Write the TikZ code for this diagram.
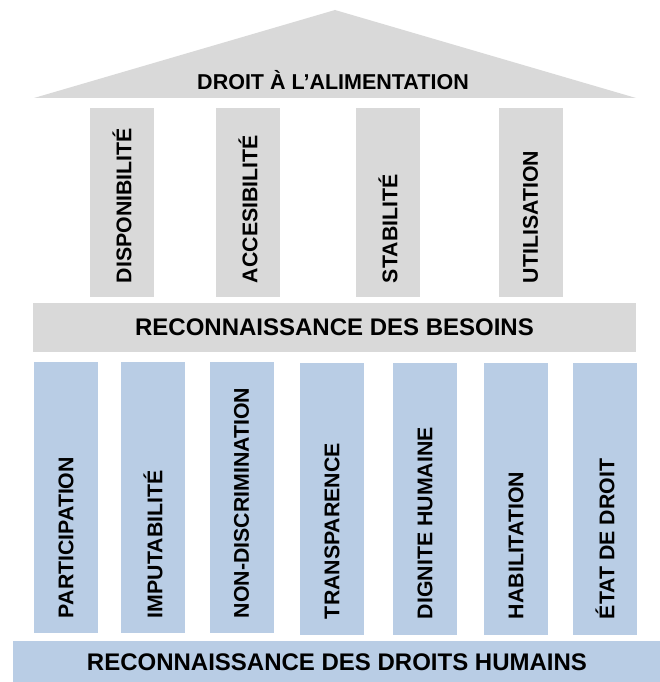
\documentclass[tikz,border=0pt]{standalone}
\usepackage{fontspec}
\setmainfont{Liberation Sans}
\definecolor{roofgray}{HTML}{D9D9D9}
\definecolor{baseblue}{HTML}{B9CDE5}

\begin{document}
\begin{tikzpicture}
[x=1pt,y=-1pt,
 column/.style = {fill=#1, inner sep=0pt, minimum width=64pt},
 slab/.style = {fill=#1, inner sep=0pt, font=\fontsize{24}{28}\selectfont\bfseries},
 word/.style = {rotate=90, anchor=west, inner sep=0pt, font=\fontsize{21.3}{25}\selectfont\bfseries},]
\useasboundingbox (0,0) rectangle (659,682);
% roof
\fill[roofgray] (34,98) -- (335,10) -- (636,98) -- cycle;
\node (roof) at (333,80)[font=\fontsize{21.5}{25}\selectfont\bfseries] {DROIT À L’ALIMENTATION};
% upper columns
\node (dispo) at (122,202.5)[column=roofgray, minimum height=189pt] {};
\node (acces) at (248,202.5)[column=roofgray, minimum height=189pt] {};
\node (stab) at (388,202.5)[column=roofgray, minimum height=189pt] {};
\node (util) at (530.5,202.5)[column=roofgray, minimum height=189pt] {};
\node at ([yshift=14pt]dispo.south)[word] {DISPONIBILITÉ};
\node at ([yshift=14pt]acces.south)[word] {ACCESIBILITÉ};
\node at ([yshift=14pt]stab.south)[word] {STABILITÉ};
\node at ([yshift=14pt]util.south)[word] {UTILISATION};
% needs
\node (besoins) at (334.5,327.5)[slab=roofgray, minimum width=603pt, minimum height=49pt] {RECONNAISSANCE DES BESOINS};
% lower columns
\node (part) at (66,497.5)[column=baseblue, minimum height=271pt] {};
\node (imput) at (153,497.5)[column=baseblue, minimum height=271pt] {};
\node (nondis) at (241.5,497.5)[column=baseblue, minimum height=271pt] {};
\node (transp) at (332,499)[column=baseblue, minimum height=272pt] {};
\node (dign) at (425,499)[column=baseblue, minimum height=272pt] {};
\node (habil) at (516,499)[column=baseblue, minimum height=272pt] {};
\node (etat) at (605,499)[column=baseblue, minimum height=272pt] {};
\node at ([yshift=15pt]part.south)[word] {PARTICIPATION};
\node at ([yshift=15pt]imput.south)[word] {IMPUTABILITÉ};
\node at ([yshift=15pt]nondis.south)[word] {NON-DISCRIMINATION};
\node at ([yshift=16pt]transp.south)[word] {TRANSPARENCE};
\node at ([yshift=16pt]dign.south)[word] {DIGNITE HUMAINE};
\node at ([yshift=16pt]habil.south)[word] {HABILITATION};
\node at ([yshift=16pt]etat.south)[word] {ÉTAT DE DROIT};
% rights
\node (droits) at (337,662)[slab=baseblue, minimum width=648pt, minimum height=42pt] {RECONNAISSANCE DES DROITS HUMAINS};
\end{tikzpicture}
\end{document}
